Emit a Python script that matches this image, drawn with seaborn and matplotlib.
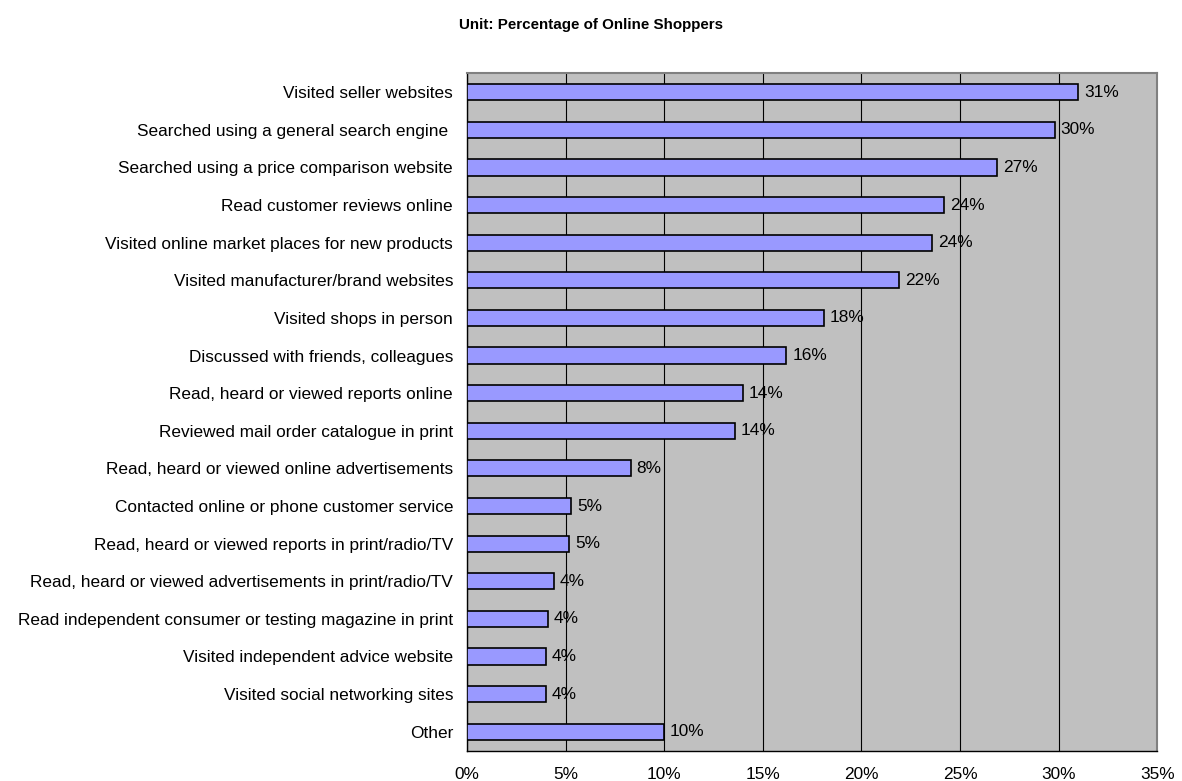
import numpy as np
import pandas as pd
import seaborn as sns
import matplotlib.pyplot as plt
from matplotlib.ticker import FixedLocator, PercentFormatter

# Values (percent of online shoppers)
activities = [
    "Visited seller websites",
    "Searched using a general search engine ",
    "Searched using a price comparison website",
    "Read customer reviews online",
    "Visited online market places for new products",
    "Visited manufacturer/brand websites",
    "Visited shops in person",
    "Discussed with friends, colleagues",
    "Read, heard or viewed reports online",
    "Reviewed mail order catalogue in print",
    "Read, heard or viewed online advertisements",
    "Contacted online or phone customer service",
    "Read, heard or viewed reports in print/radio/TV",
    "Read, heard or viewed advertisements in print/radio/TV",
    "Read independent consumer or testing magazine in print",
    "Visited independent advice website",
    "Visited social networking sites",
    "Other",
]
shares = [31.0, 29.8, 26.9, 24.2, 23.6, 21.9, 18.1, 16.2, 14.0, 13.6,
          8.3, 5.3, 5.2, 4.4, 4.1, 4.0, 4.0, 10.0]
x_ticks = [0, 5, 10, 15, 20, 25, 30, 35]

df = pd.DataFrame({"activity": activities, "share": shares})

sns.set_theme(style="white")
plt.rcParams["font.family"] = ["Liberation Sans", "DejaVu Sans"]

fs = 12.4

fig = plt.figure(figsize=(11.82, 7.81), dpi=100)
ax = fig.add_axes([0.395, 0.039, 0.584, 0.867])

sns.barplot(data=df, x="share", y="activity", orient="h", ax=ax,
            color="#9999FF", saturation=1, width=0.43,
            edgecolor="black", linewidth=1.2, zorder=3)

ax.set_facecolor("#C0C0C0")
ax.set_xlim(0, 35)
ax.set_ylim(len(activities) - 0.5, -0.5)
ax.set_xticks(x_ticks)
ax.xaxis.set_major_formatter(PercentFormatter(decimals=0))
ax.grid(axis="x", color="black", linewidth=0.8, zorder=1)
ax.grid(axis="y", visible=False)
ax.set_xlabel("")
ax.set_ylabel("")

for side in ["top", "right"]:
    ax.spines[side].set_color("#808080")
    ax.spines[side].set_linewidth(1.5)
for side in ["left", "bottom"]:
    ax.spines[side].set_color("black")
    ax.spines[side].set_linewidth(1.0)

# x labels sit low, partly below the figure edge as in the original
ax.tick_params(axis="x", which="major", direction="inout", length=6,
               width=1, pad=9, labelsize=fs, colors="black")
ax.tick_params(axis="y", which="major", length=0, pad=10, labelsize=fs,
               labelcolor="black")
ax.yaxis.set_minor_locator(FixedLocator(np.arange(-0.5, len(activities), 1)))
ax.tick_params(axis="y", which="minor", direction="out", length=5, width=1,
               color="black")

for i, v in enumerate(shares):
    ax.text(v + 0.3, i, f"{round(v):.0f}%", va="center", ha="left",
            fontsize=fs, color="black", zorder=4)

fig.text(0.5, 0.968, "Unit: Percentage of Online Shoppers", ha="center",
         va="center", fontsize=10.9, fontweight="bold", color="black")

fig.savefig("out.png", dpi=100)
